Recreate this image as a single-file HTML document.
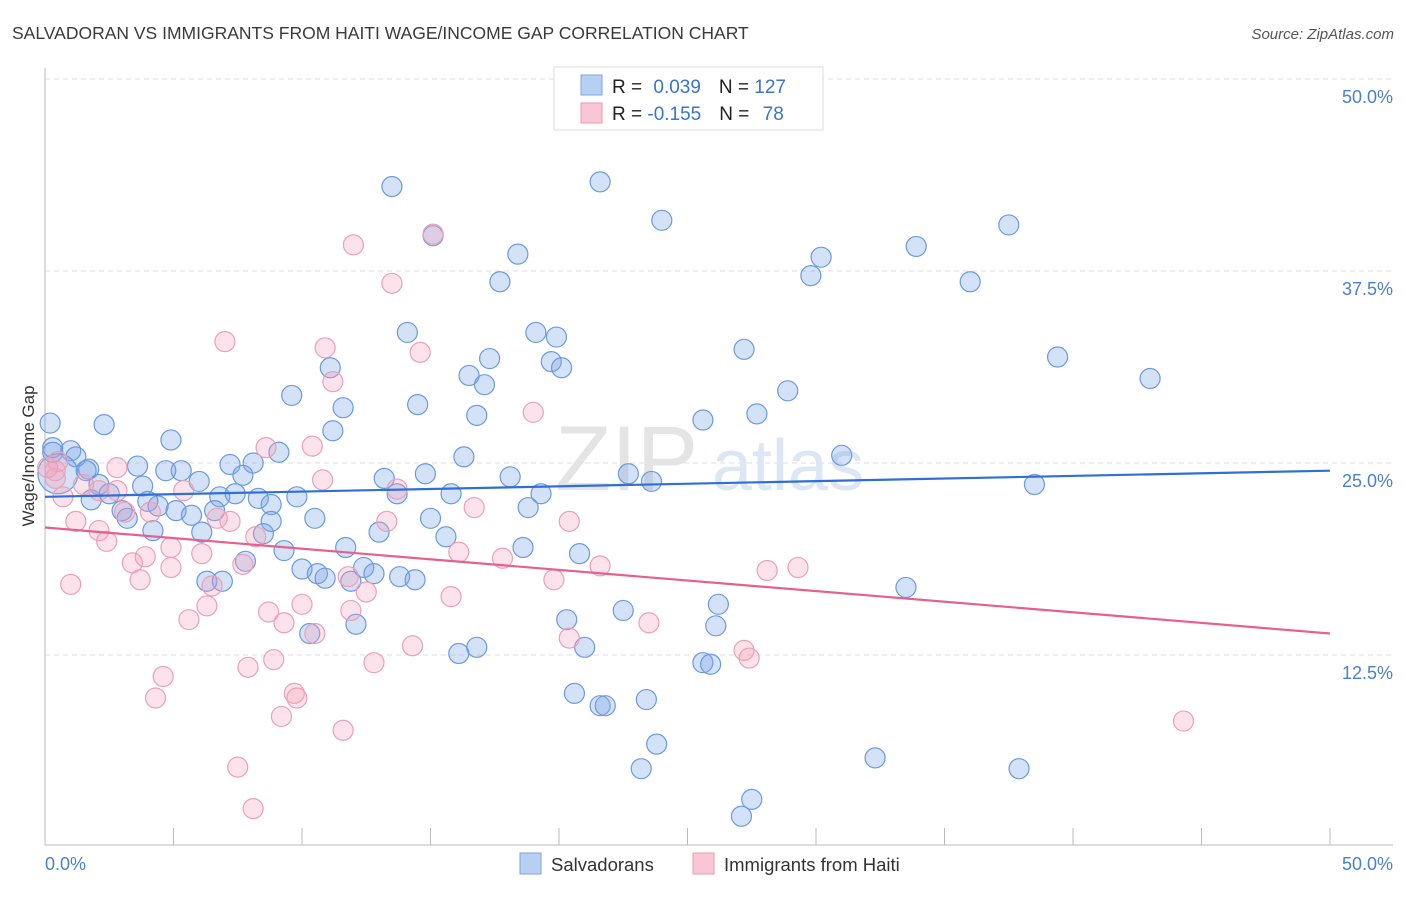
<!DOCTYPE html>
<html><head><meta charset="utf-8"><style>
body{margin:0;background:#fff;font-family:"Liberation Sans",sans-serif}
svg text{font-family:"Liberation Sans",sans-serif}
</style></head><body>
<svg id="chart" width="1406" height="892" xmlns="http://www.w3.org/2000/svg">
<text x="12" y="39" font-size="17.5" fill="#3a3a3a">SALVADORAN VS IMMIGRANTS FROM HAITI WAGE/INCOME GAP CORRELATION CHART</text>
<text x="1394" y="39" font-size="15" fill="#555" text-anchor="end" font-style="italic">Source: ZipAtlas.com</text>
<g id="grid"></g>
<g><text x="555" y="490" font-size="92" fill="#e4e4e4" font-family="Liberation Serif">ZIP</text><text x="712" y="490" font-size="72" fill="#dce6f4">atlas</text></g>
<line x1="45" y1="68" x2="45" y2="845" stroke="#bbb"/>
<line x1="45" y1="845" x2="1393" y2="845" stroke="#bbb"/>
<g id="xticks"></g>
<g id="ylabels"></g>
<text x="45" y="870" font-size="18" fill="#4a7fd4">0.0%</text>
<text x="1393" y="870" font-size="18" fill="#4a7fd4" text-anchor="end">50.0%</text>
<text transform="translate(34,456) rotate(-90)" font-size="17" fill="#333" text-anchor="middle">Wage/Income Gap</text>
<g id="pts"></g>
<g id="lines"></g>
<g>
<rect x="554" y="67" width="269" height="63" fill="#fff" stroke="#ddd"/>
<rect x="581" y="75" width="21" height="20" fill="#b7d0f2" stroke="#7aa6e0"/>
<rect x="581" y="103" width="21" height="20" fill="#f9c6d6" stroke="#e99ab3"/>
<text x="612" y="93" font-size="19" fill="#222">R = <tspan fill="#3a74d0" dx="6">0.039</tspan><tspan dx="18" fill="#222">N = </tspan><tspan fill="#3a74d0">127</tspan></text>
<text x="612" y="120" font-size="19" fill="#222">R = <tspan fill="#3a74d0">-0.155</tspan><tspan dx="18" fill="#222">N = </tspan><tspan fill="#3a74d0" dx="8">78</tspan></text>
</g>
<g>
<rect x="520" y="853" width="21" height="21" fill="#b7d0f2" stroke="#7aa6e0"/>
<text x="551" y="871" font-size="18.5" fill="#333">Salvadorans</text>
<rect x="693" y="853" width="21" height="21" fill="#f9c6d6" stroke="#e99ab3"/>
<text x="724" y="871" font-size="18.5" fill="#333">Immigrants from Haiti</text>
</g>
</svg>
<script>
const yTicks=[12.5,25,37.5,50];
const yTickLabels=["12.5%","25.0%","37.5%","50.0%"];
const xTicks=[0,5,10,15,20,25,30,35,40,45,50];
const blueX=[13.5,21.6,24.0,37.5,15.1,33.9,18.4,30.2,17.7,29.8,36.0,14.1,19.1,19.9,27.2,17.3,19.7,39.4,20.1,16.5,11.1,17.1,43.0,9.6,28.9,14.5,11.6,16.8,25.6,27.7,2.3,11.2,4.9,1.0,0.3,1.2,9.1,16.3,31.0,1.7,3.6,5.3,7.2,8.1,1.6,4.7,6.0,7.7,13.2,14.8,18.1,22.7,23.6,38.5,2.1,3.8,2.5,6.8,7.4,8.3,9.8,13.7,15.8,19.3,1.8,4.4,4.0,3.0,3.2,5.1,5.7,6.6,8.8,18.8,10.5,8.8,15.0,4.2,6.1,8.5,13.0,15.6,11.7,18.6,9.3,20.8,7.8,10.0,10.6,12.4,10.9,11.9,12.8,13.8,14.4,6.3,6.9,33.5,22.5,26.2,20.3,26.1,12.1,10.3,16.8,16.1,21.0,25.6,25.9,20.6,21.6,21.8,23.4,23.8,23.2,32.3,37.9,27.5,27.1,0.2,0.3,0.5];
const blueY=[43.0,43.3,40.8,40.5,39.8,39.1,38.6,38.4,36.8,37.2,36.8,33.5,33.5,33.2,32.4,31.8,31.6,31.9,31.2,30.7,31.2,30.1,30.5,29.4,29.7,28.8,28.6,28.1,27.8,28.2,27.5,27.1,26.5,25.8,26.0,25.4,25.7,25.4,25.5,24.6,24.8,24.5,24.9,25.0,24.5,24.5,23.8,24.2,24.0,24.3,24.1,24.3,23.8,23.6,23.6,23.5,23.0,22.8,23.0,22.7,22.8,23.0,23.0,23.0,22.6,22.2,22.5,21.9,21.4,21.9,21.6,21.9,22.3,22.1,21.4,21.2,21.4,20.6,20.5,20.4,20.5,20.2,19.5,19.5,19.3,19.1,18.6,18.1,17.8,18.2,17.5,17.3,17.8,17.6,17.4,17.3,17.3,16.9,15.4,15.8,14.8,14.4,14.5,13.9,13.0,12.6,13.0,12.0,11.9,10.0,9.2,9.2,9.6,6.7,5.1,5.8,5.1,3.1,2.0,27.6,25.7,24.3];
const blueR=[10,10,10,10,10,10,10,10,10,10,10,10,10,10,10,10,10,10,10,10,10,10,10,10,10,10,10,10,10,10,10,10,10,10,10,10,10,10,10,10,10,10,10,10,10,10,10,10,10,10,10,10,10,10,10,10,10,10,10,10,10,10,10,10,10,10,10,10,10,10,10,10,10,10,10,10,10,10,10,10,10,10,10,10,10,10,10,10,10,10,10,10,10,10,10,10,10,10,10,10,10,10,10,10,10,10,10,10,10,10,10,10,10,10,10,10,10,10,10,10,10,20,16,13];
const pinkX=[15.1,12.0,13.5,7.0,10.9,14.6,11.2,19.0,10.4,8.6,2.8,0.5,0.4,10.8,0.7,2.1,1.5,2.8,5.4,13.7,16.7,20.4,13.3,3.1,4.1,1.2,2.1,7.2,6.7,8.2,2.4,4.9,16.1,3.9,3.4,6.1,17.8,21.6,7.7,28.1,29.3,4.9,3.7,1.0,11.8,19.8,6.5,12.5,15.8,6.3,8.7,10.0,11.9,5.6,9.3,23.5,10.5,20.4,14.3,27.2,27.4,8.9,7.9,12.8,4.6,4.3,9.7,9.8,9.2,11.6,44.3,7.5,8.1,0.4,0.1];
const pinkY=[39.9,39.2,36.7,32.9,32.5,32.2,30.3,28.3,26.1,26.0,24.7,25.1,24.5,23.9,22.8,23.2,23.6,23.2,23.2,23.3,22.1,21.2,21.2,21.8,21.8,21.2,20.6,21.2,21.4,20.2,19.9,19.5,19.2,18.9,18.5,19.1,18.8,18.3,18.4,18.0,18.2,18.2,17.4,17.1,17.6,17.4,17.0,16.6,16.3,15.7,15.3,15.8,15.4,14.8,14.6,14.6,13.9,13.6,13.1,12.8,12.3,12.2,11.7,12.0,11.1,9.7,10.0,9.7,8.5,7.6,8.2,5.2,2.5,24.0,24.7];
const blueFit=[22.8,24.5];
const pinkFit=[20.8,13.9];
const X0=45,X1=1330,Y0=847,Y50=79;
function sx(v){return X0+(X1-X0)*v/50;}
function sy(v){return Y0-(Y0-Y50)*v/50;}
const NS="http://www.w3.org/2000/svg";
function mk(t,a,p){const e=document.createElementNS(NS,t);for(const k in a)e.setAttribute(k,a[k]);p.appendChild(e);return e;}
const grid=document.getElementById('grid');
yTicks.forEach((t,i)=>{
 const l=mk('line',{x1:45,x2:1393,y1:sy(t),y2:sy(t),stroke:'#ddd','stroke-dasharray':'5,4'},grid);
 
 
 const tx=mk('text',{x:1393,y:sy(t)+24,'font-size':18,fill:'#4a7fd4','text-anchor':'end'},document.getElementById('ylabels'));
 tx.textContent=yTickLabels[i];
 
 
});
xTicks.forEach(t=>{
 const l=mk('line',{x1:sx(t),x2:sx(t),y1:828,y2:845,stroke:'#bbb'},document.getElementById('xticks'));
 
 
});
const pts=document.getElementById('pts');


blueX.forEach((x,i)=>{
 const c=mk('circle',{cx:sx(x),cy:sy(blueY[i]),r:blueR[i],fill:'rgba(120,165,230,0.32)',stroke:'#6a9ae0','stroke-width':1.2},pts);
 
 
});
pinkX.forEach((x,i)=>{
 const c=mk('circle',{cx:sx(x),cy:sy(pinkY[i]),r:10,fill:'rgba(245,160,185,0.3)',stroke:'#eca0b8','stroke-width':1.2},pts);
 
 
});
const lines=document.getElementById('lines');
const bl=mk('line',{x1:sx(0),y1:sy(blueFit[0]),x2:sx(50),y2:sy(blueFit[1]),stroke:'#2f6fd6','stroke-width':2.2},lines);


const pl=mk('line',{x1:sx(0),y1:sy(pinkFit[0]),x2:sx(50),y2:sy(pinkFit[1]),stroke:'#e5608e','stroke-width':2.2},lines);


</script>
</body></html>
